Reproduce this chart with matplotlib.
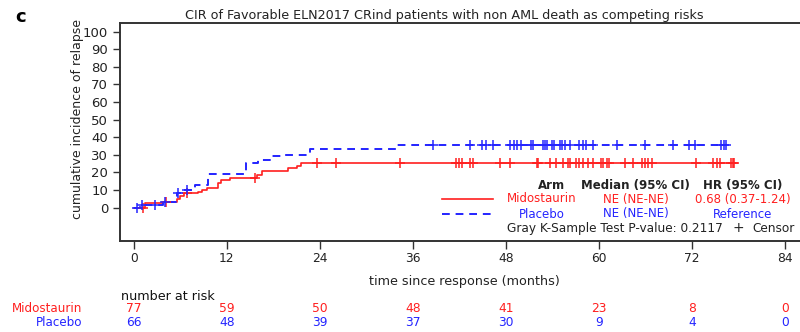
import numpy as np
import matplotlib
matplotlib.use("Agg")
import matplotlib.pyplot as plt
import matplotlib.transforms as mtransforms

# --- data ---
# step functions (time in months, cumulative incidence in %)
mido_t = [0, 1.4, 3.8, 5.5, 6.0, 6.5, 8.3, 8.8, 9.4, 10.9, 11.3, 12.4, 15.9, 16.5, 19.9, 21.0, 21.6, 77.5]
mido_v = [0, 2.5, 3.4, 4.9, 6.6, 8.2, 9.1, 10.0, 11.4, 14.2, 16.0, 16.9, 18.6, 21.0, 22.4, 23.7, 25.6, 25.6]
plac_t = [0, 0.8, 3.8, 5.5, 6.3, 7.9, 9.5, 14.5, 16.0, 17.5, 19.5, 22.7, 34.0, 76.4]
plac_v = [0, 1.5, 3.4, 8.2, 10.0, 12.9, 19.0, 25.2, 27.3, 29.2, 30.2, 33.5, 35.6, 35.6]

# censored times
mido_cens = [1.2, 4.2, 6.9, 15.6, 23.6, 26.1, 34.3, 41.6, 42.0, 42.3, 43.4, 43.7, 47.2, 48.6,
             52.0, 52.2, 53.7, 54.5, 55.4, 56.0, 56.3, 57.0, 57.5, 57.9, 58.6, 59.3, 60.3,
             60.6, 61.0, 61.3, 63.4, 64.4, 65.6, 65.9, 66.4, 66.9, 72.6, 74.7, 75.3, 75.7,
             77.1, 77.3, 77.5]
plac_cens = [0.35, 1.0, 2.7, 4.0, 5.7, 6.8, 38.6, 43.4, 44.9, 45.4, 46.4, 48.5, 49.0, 49.4,
             50.0, 51.3, 51.5, 52.8, 53.0, 53.3, 53.9, 54.2, 55.0, 55.2, 55.7, 56.3, 57.5,
             57.9, 58.3, 59.3, 62.3, 65.9, 69.6, 71.7, 72.4, 75.8, 76.1, 76.4]

x_ticks = [0, 12, 24, 36, 48, 60, 72, 84]
mido_risk = [77, 59, 50, 48, 41, 23, 8, 0]
plac_risk = [66, 48, 39, 37, 30, 9, 4, 0]

RED = '#ff1f1f'
BLUE = '#2424ff'
TXT = '#222222'


def step_value(times, vals, t):
    i = np.searchsorted(times, t, side='right') - 1
    return vals[max(i, 0)]


fig = plt.figure(figsize=(8, 3.32), dpi=100)
ax = fig.add_axes([0.15, 0.274, 0.86, 0.657])

ax.step(mido_t, mido_v, where='post', color=RED, lw=1.2)
ax.step(plac_t, plac_v, where='post', color=BLUE, lw=1.4, linestyle=(0, (4, 3)))

ax.plot(mido_cens, [step_value(mido_t, mido_v, t) for t in mido_cens], '+',
        color=RED, ms=7, mew=1.1)
ax.plot(plac_cens, [step_value(plac_t, plac_v, t) for t in plac_cens], '+',
        color=BLUE, ms=7, mew=1.1)

ax.set_xlim(-1.8, 87)
ax.set_ylim(-18.9, 104.9)
ax.set_yticks(range(0, 101, 10))
ax.set_xticks(x_ticks)
ax.set_xticklabels([str(t) for t in x_ticks], fontsize=8.8)
ax.tick_params(axis='y', labelsize=9.5, length=5, width=1, colors='#333333', labelcolor=TXT)
ax.tick_params(axis='x', length=6, width=1, colors='#333333', labelcolor=TXT, pad=2)
for s in ax.spines.values():
    s.set_linewidth(1.4)
    s.set_color('#333333')
ax.set_ylabel('cumulative incidence of relapse', fontsize=9, color=TXT)
ax.yaxis.set_label_coords(-0.052, 0.56)
ax.set_xlabel('time since response (months)', fontsize=9.2, color=TXT, labelpad=7)

fig.text(444 / 800, 1 - 15 / 332, 'CIR of Favorable ELN2017 CRind patients with non AML death as competing risks',
         ha='center', va='center', fontsize=9.2, color=TXT)
fig.text(15 / 800, 1 - 17 / 332, 'c', fontsize=13, fontweight='bold', ha='left', va='center')


# legend table (placed in figure pixels)
def fx(px):
    return px / 800


def fy(py):
    return 1 - py / 332


fs = 8.5
fig.text(fx(552), fy(185), 'Arm', ha='center', va='center', fontsize=fs, fontweight='semibold', color=TXT)
fig.text(fx(635), fy(185), 'Median (95% CI)', ha='center', va='center', fontsize=fs, fontweight='semibold', color=TXT)
fig.text(fx(743), fy(185), 'HR (95% CI)', ha='center', va='center', fontsize=fs, fontweight='semibold', color=TXT)
fig.add_artist(plt.Line2D([fx(442), fx(493)], [fy(199), fy(199)], color=RED, lw=1.2))
fig.add_artist(plt.Line2D([fx(442), fx(493)], [fy(214), fy(214)], color=BLUE, lw=1.4, linestyle=(0, (4, 3))))
fig.text(fx(542), fy(199), 'Midostaurin', ha='center', va='center', fontsize=fs, color=RED)
fig.text(fx(636), fy(199), 'NE (NE-NE)', ha='center', va='center', fontsize=fs, color=RED)
fig.text(fx(743), fy(199), '0.68 (0.37-1.24)', ha='center', va='center', fontsize=fs, color=RED)
fig.text(fx(542), fy(214), 'Placebo', ha='center', va='center', fontsize=fs, color=BLUE)
fig.text(fx(636), fy(214), 'NE (NE-NE)', ha='center', va='center', fontsize=fs, color=BLUE)
fig.text(fx(743), fy(214), 'Reference', ha='center', va='center', fontsize=fs, color=BLUE)
fig.text(fx(507), fy(228.5), 'Gray K-Sample Test P-value: 0.2117', ha='left', va='center', fontsize=8.7, color=TXT)
fig.text(fx(738), fy(228.5), '+', ha='center', va='center', fontsize=fs + 1.5, color=TXT)
fig.text(fx(752), fy(228.5), 'Censor', ha='left', va='center', fontsize=8.7, color=TXT)

# number at risk table
trans = mtransforms.blended_transform_factory(ax.transData, fig.transFigure)
fig.text(fx(121), fy(297), 'number at risk', ha='left', va='center', fontsize=9.2, color='#111111')
fig.text(fx(82), fy(309), 'Midostaurin', ha='right', va='center', fontsize=8.6, color=RED)
fig.text(fx(82), fy(322), 'Placebo', ha='right', va='center', fontsize=8.6, color=BLUE)
for t, m, p in zip(x_ticks, mido_risk, plac_risk):
    ax.text(t, fy(309), str(m), transform=trans, ha='center', va='center', fontsize=8.8, color=RED)
    ax.text(t, fy(322), str(p), transform=trans, ha='center', va='center', fontsize=8.8, color=BLUE)

fig.savefig('out.png', dpi=100)
